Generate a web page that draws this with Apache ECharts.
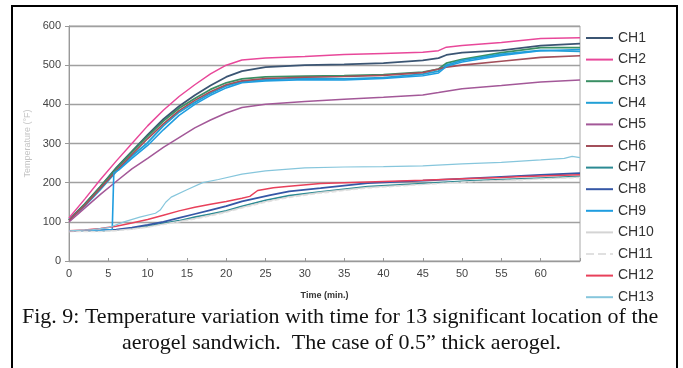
<!DOCTYPE html>
<html><head><meta charset="utf-8">
<script src="https://cdn.jsdelivr.net/npm/echarts@6/dist/echarts.min.js"></script>
<style>html,body{margin:0;padding:0;background:#fff}#c{width:683px;height:368px}</style>
</head><body><div id="c"></div>
<script>
const names = ['CH1','CH2','CH3','CH4','CH5','CH6','CH7','CH8','CH9','CH10','CH11','CH12','CH13'];
const xTicks = [0,5,10,15,20,25,30,35,40,45,50,55,60];
const ch1 = [[0,105],[2,145],[4,190],[6,238],[8,280],[10,322],[12,362],[14,395],[16,423],[18,448],[20,470],[22,485],[25,495],[30,500],[35,502],[40,505],[45,512],[47,518],[48,526],[50,532],[55,538],[60,550],[65,555]];
const ch2 = [[0,110],[2,158],[4,208],[6,255],[8,300],[10,345],[12,385],[14,420],[16,450],[18,478],[20,500],[22,513],[25,518],[30,522],[35,527],[40,530],[45,533],[47,537],[48,546],[50,550],[55,558],[60,568],[65,570]];
const ch3 = [[0,105],[2,145],[4,190],[6,235],[8,278],[10,318],[12,357],[14,390],[16,415],[18,438],[20,455],[22,465],[25,470],[30,472],[35,473],[40,476],[45,482],[47,490],[48,505],[50,515],[55,532],[60,545],[65,545]];
const ch4 = [[0,105],[2,140],[4,183],[6,228],[8,268],[10,302],[12,345],[14,380],[16,405],[18,428],[20,447],[22,458],[25,463],[30,467],[35,465],[40,468],[45,477],[47,485],[48,500],[50,512],[55,528],[60,538],[65,535]];
const ch5 = [[0,100],[2,135],[4,170],[6,203],[8,235],[10,262],[12,290],[14,315],[16,340],[18,360],[20,378],[22,392],[25,400],[30,407],[35,413],[40,418],[45,424],[47,430],[50,440],[55,448],[60,457],[65,462]];
const ch6 = [[0,104],[2,142],[4,186],[6,230],[8,272],[10,312],[12,350],[14,384],[16,410],[18,432],[20,450],[22,460],[25,466],[30,469],[35,471],[40,474],[45,481],[47,490],[48,495],[50,500],[55,510],[60,520],[65,524]];
const ch7 = [[0,77],[4,77],[6,79],[8,83],[10,89],[12,96],[14,103],[16,112],[18,120],[20,128],[22,140],[25,155],[28,167],[32,177],[38,190],[45,198],[51,205],[55,208],[60,212],[65,216]];
const ch8 = [[0,77],[2,77],[4,78],[6,80],[8,85],[10,92],[12,100],[14,110],[16,120],[18,130],[20,140],[22,152],[25.6,168],[28,178],[32,186],[38,199],[45,205],[51,211],[55,215],[60,220],[65,224]];
const ch9 = [[0,77],[2,77],[4,78],[5.5,80],[5.7,225],[6.3,232],[8,262],[10,295],[12,335],[14,372],[16,400],[18,423],[20,442],[22,455],[25,460],[30,463],[35,462],[40,466],[45,473],[47,480],[48,497],[50,508],[55,525],[60,537],[65,540]];
const ch10 = [[0,76],[4,76],[6,78],[8,82],[10,87],[12,94],[14,101],[16,109],[18,117],[20,126],[22,137],[25,152],[28,164],[32,175],[38,188],[45,196],[51,203],[55,206],[60,210],[65,214]];
const ch11 = [[0,75],[4,75],[6,77],[8,81],[10,86],[12,93],[14,100],[16,107],[18,115],[20,124],[22,135],[25,150],[28,162],[32,173],[38,186],[45,195],[51,202],[55,205],[60,209],[65,213]];
const ch12 = [[0,77],[2,79],[4,83],[6,89],[8,97],[10,106],[12,117],[14,128],[16,137],[18,145],[20,152],[22,160],[23,165],[24,180],[26,187],[28,191],[32,198],[35,200],[40,203],[45,206],[50,210],[55,213],[57,215],[60,217],[65,220]];
const ch13 = [[0,77],[3,80],[5,85],[7,100],[9,112],[11,122],[11.6,130],[12.3,150],[13,163],[15,182],[17,200],[19,208],[22,222],[25,230],[30,238],[35,240],[40,241],[45,243],[50,248],[55,252],[60,258],[63,262],[64,267],[65,264]];
const seriesData = [ch1,ch2,ch3,ch4,ch5,ch6,ch7,ch8,ch9,ch10,ch11,ch12,ch13];
const colors = ['#3b5573','#e8489a','#3a8f64','#22a0d6','#a35898','#a34f5a','#2b8a93','#3557a6','#1f9de0','#d4d4d4','#e0e0e0','#e8405a','#86c6dc'];
const widths = [1.8,1.5,1.8,1.8,1.5,1.6,1.6,1.8,1.6,1.2,1.2,1.5,1.2];

const chart = echarts.init(document.getElementById('c'));
chart.setOption({
  animation: false,
  backgroundColor: '#fff',
  grid: {left: 69, right: 103, top: 26, bottom: 107, show: true, borderColor: '#a8a8a8', borderWidth: 1},
  legend: {
    orient: 'vertical', left: 580, top: 26, itemWidth: 27, itemHeight: 14, itemGap: 7.6,
    itemStyle: {color: 'rgba(0,0,0,0)', borderColor: 'rgba(0,0,0,0)', borderWidth: 0},
    textStyle: {fontFamily: 'Liberation Sans, Arial', fontSize: 14, color: '#333'},
    data: names
  },
  xAxis: {
    type: 'value', min: 0, max: 65, interval: 5,
    name: 'Time (min.)', nameLocation: 'middle', nameGap: 30,
    nameTextStyle: {fontFamily: 'Liberation Sans, Arial', fontSize: 9, fontWeight: 'bold', color: '#333'},
    axisLine: {show: true, lineStyle: {color: '#999'}},
    axisTick: {show: true, inside: true, length: 3, lineStyle: {color: '#999'}},
    axisLabel: {fontFamily: 'Liberation Sans, Arial', fontSize: 11, color: '#444', margin: 7,
      formatter: v => xTicks.includes(v) ? String(v) : ''},
    splitLine: {show: false}
  },
  yAxis: {
    type: 'value', min: 0, max: 600, interval: 100,
    name: 'Temperature (°F)', nameLocation: 'middle', nameGap: 34,
    nameTextStyle: {fontFamily: 'Liberation Sans, Arial', fontSize: 9, color: '#c4c4c4'},
    axisLine: {show: true, lineStyle: {color: '#999'}},
    axisTick: {show: true, length: 4, lineStyle: {color: '#999'}},
    axisLabel: {fontFamily: 'Liberation Sans, Arial', fontSize: 11, color: '#444', margin: 8},
    splitLine: {show: true, lineStyle: {color: '#a0a0a0', width: 1.3}}
  },
  series: names.map((n, i) => ({
    name: n, type: 'line', data: seriesData[i], symbol: 'none',
    smooth: false,
    color: colors[i],
    lineStyle: {color: colors[i], width: widths[i], type: i === 10 ? 'dashed' : 'solid'},
    z: i === 1 ? 5 : 3
  })),
  graphic: [
    {type: 'rect', shape: {x: 12, y: 6, width: 665, height: 380}, style: {fill: 'none', stroke: '#000', lineWidth: 2}, z: 10},
    {type: 'text', left: 22, top: 306, style: {text: 'Fig. 9: Temperature variation with time for 13 significant location of the', font: '22px "Liberation Serif", "Times New Roman", serif', fill: '#111'}},
    {type: 'text', left: 'center', top: 332, style: {text: 'aerogel sandwich.  The case of 0.5\u201d thick aerogel.', font: '22px "Liberation Serif", "Times New Roman", serif', fill: '#111'}}
  ]
});
</script></body></html>
